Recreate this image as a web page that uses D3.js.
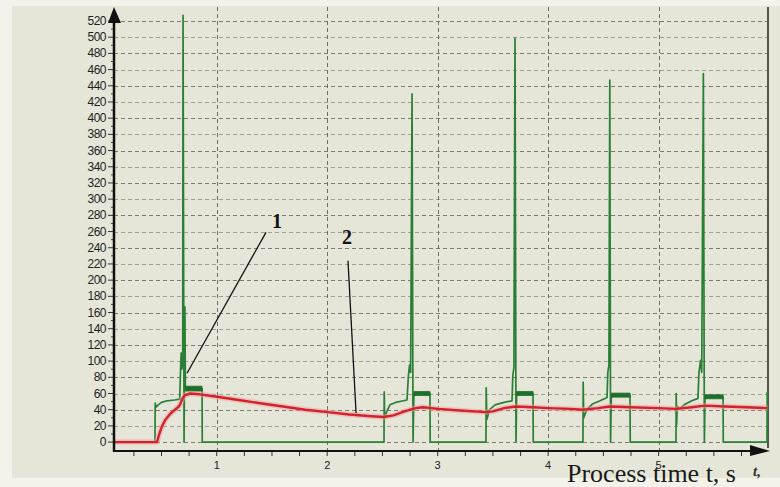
<!DOCTYPE html>
<html>
<head>
<meta charset="utf-8">
<script src="https://cdn.jsdelivr.net/npm/d3@7"></script>
<style>
  html, body { margin: 0; padding: 0; background: #f3f3ec; }
  svg { display: block; }
</style>
</head>
<body>
<svg id="chart" width="780" height="487"></svg>
<script>
// Axis ticks
const yTickValues = d3.range(0, 521, 20);
const xTickLabels = [1, 2, 3, 4, 5];
const xMinorStep = 0.25;

// Curve 1 (green): process time t [s], value
const greenSeries = [
  [0.07, 0], [0.441, 0], [0.443, 48], [0.45, 43], [0.47, 46], [0.50, 49], [0.55, 51],
  [0.62, 52], [0.665, 53], [0.672, 88], [0.678, 110], [0.684, 90], [0.692, 96],
  [0.695, 527], [0.704, 0], [0.712, 167], [0.716, 66], [0.867, 66], [0.869, 0],
  [2.514, 0], [2.516, 62], [2.52, 30], [2.54, 38], [2.568, 46], [2.62, 49], [2.722, 52],
  [2.735, 82], [2.745, 95], [2.755, 86], [2.768, 430], [2.777, 0], [2.785, 60],
  [2.930, 60], [2.932, 0],
  [3.437, 0], [3.439, 67], [3.445, 28], [3.47, 40], [3.52, 46], [3.60, 49], [3.673, 51],
  [3.68, 82], [3.69, 92], [3.700, 499], [3.709, 0], [3.715, 60], [3.863, 60], [3.865, 0],
  [4.315, 0], [4.317, 74], [4.322, 30], [4.35, 40], [4.40, 47], [4.47, 51], [4.533, 55],
  [4.54, 86], [4.55, 95], [4.558, 447], [4.565, 0], [4.572, 58], [4.741, 58], [4.743, 0],
  [5.157, 0], [5.159, 60], [5.163, 21], [5.168, 44], [5.19, 41], [5.23, 46], [5.30, 51],
  [5.356, 54], [5.365, 86], [5.38, 101], [5.39, 86], [5.405, 455], [5.414, 0],
  [5.42, 56], [5.583, 56], [5.585, 0], [5.981, 0], [5.983, 62]
];

// Ripple bands on the green plateaus: start, end, level, half-width
const greenPlateaus = [
  [0.716, 0.867, 66, 3],
  [2.785, 2.930, 60, 2.5],
  [3.715, 3.863, 60, 2.5],
  [4.572, 4.741, 58, 2.5],
  [5.42, 5.583, 56, 2.5]
];

// Curve 2 (red): process time t [s], value
const redSeries = [
  [0.07, 0], [0.459, 0], [0.48, 10], [0.50, 18], [0.532, 27], [0.58, 35], [0.622, 40],
  [0.65, 43], [0.667, 46], [0.69, 54], [0.713, 58], [0.76, 60], [0.848, 59],
  [1.002, 56], [1.2, 52], [1.392, 48], [1.6, 44], [1.8, 40], [2.007, 37], [2.2, 34],
  [2.4, 32], [2.514, 31], [2.6, 33], [2.7, 38], [2.8, 42], [2.867, 43], [3.003, 41],
  [3.2, 39], [3.437, 37], [3.5, 38], [3.6, 42], [3.709, 44], [3.863, 43], [4.0, 42],
  [4.2, 41], [4.315, 40], [4.45, 42], [4.56, 44], [4.75, 43], [5.0, 42], [5.157, 41],
  [5.3, 43], [5.42, 45], [5.6, 44], [5.8, 43], [5.985, 42]
];

// Curve callouts: label, label position, leader line from/to (t, value)
const callouts = [
  { text: "1", at: [1.545, 264], from: [1.446, 259], to: [0.731, 85] },
  { text: "2", at: [2.179, 245], from: [2.188, 224], to: [2.261, 36] }
];

const xTitle = "Process time t, s";
const xUnitMark = "t,";

const svg = d3.select("#chart");
const W = 780;

const x = d3.scaleLinear().domain([0.07, 5.99]).range([114, 768]);
const y = d3.scaleLinear().domain([-11, 520]).range([451, 21]);

// panel background
svg.append("rect").attr("x", 12).attr("y", 6).attr("width", W - 12).attr("height", 472)
  .attr("fill", "#e5e6d8");

// grid
const grid = svg.append("g").attr("stroke", "#6e6e68").attr("stroke-width", 1)
  .attr("stroke-dasharray", "4,3").attr("fill", "none");
grid.selectAll("line.h").data(yTickValues).join("line").attr("class", "h")
  .attr("x1", x(0.07)).attr("x2", x(5.99))
  .attr("y1", d => Math.round(y(d)) + 0.5).attr("y2", d => Math.round(y(d)) + 0.5)
  .attr("stroke-opacity", (d, i) => i % 2 ? 0.6 : 0.9);
grid.selectAll("line.v").data(xTickLabels).join("line").attr("class", "v")
  .attr("x1", d => Math.round(x(d)) + 0.5).attr("x2", d => Math.round(x(d)) + 0.5)
  .attr("y1", 7).attr("y2", y(-11));

// right border
svg.append("line").attr("x1", 768).attr("x2", 768).attr("y1", 7).attr("y2", 448)
  .attr("stroke", "#55554f").attr("stroke-width", 2);

// green curve
const line = d3.line().x(d => x(d[0])).y(d => y(d[1]));
svg.append("path").datum(greenSeries).attr("d", line)
  .attr("fill", "none").attr("stroke", "#2a7f36").attr("stroke-width", 1.7)
  .attr("stroke-linejoin", "round");
const band = d3.area().x(d => x(d[0])).y0(d => y(d[1] - d[2])).y1(d => y(d[1] + d[2]));
svg.append("g").selectAll("path").data(greenPlateaus).join("path")
  .attr("d", p => band([[p[0], p[2], p[3]], [p[1], p[2], p[3]]]))
  .attr("fill", "#1d7029").attr("stroke", "#1d7029").attr("stroke-width", 0.8);

// red curve with soft halo
svg.append("path").datum(redSeries).attr("d", line)
  .attr("fill", "none").attr("stroke", "#f0a0a0").attr("stroke-width", 5.5)
  .attr("stroke-opacity", 0.5).attr("stroke-linejoin", "round");
svg.append("path").datum(redSeries).attr("d", line)
  .attr("fill", "none").attr("stroke", "#d3222c").attr("stroke-width", 2.4)
  .attr("stroke-linejoin", "round");

// callouts
const co = svg.append("g");
co.selectAll("line").data(callouts).join("line")
  .attr("x1", d => x(d.from[0])).attr("y1", d => y(d.from[1]))
  .attr("x2", d => x(d.to[0])).attr("y2", d => y(d.to[1]))
  .attr("stroke", "#111").attr("stroke-width", 1.3);
co.selectAll("text").data(callouts).join("text")
  .attr("x", d => x(d.at[0])).attr("y", d => y(d.at[1]))
  .attr("text-anchor", "middle")
  .attr("font-family", "Liberation Serif, Times New Roman, serif")
  .attr("font-weight", "bold").attr("font-size", 20).attr("fill", "#111")
  .text(d => d.text);

// y axis
const yAxis = svg.append("g");
yAxis.selectAll("line.maj").data(yTickValues).join("line").attr("class", "maj")
  .attr("x1", 108).attr("x2", 114)
  .attr("y1", d => y(d)).attr("y2", d => y(d))
  .attr("stroke", "#333").attr("stroke-width", 1);
yAxis.selectAll("line.min").data(d3.range(10, 520, 20)).join("line").attr("class", "min")
  .attr("x1", 111).attr("x2", 114)
  .attr("y1", d => y(d)).attr("y2", d => y(d))
  .attr("stroke", "#444").attr("stroke-width", 1);
yAxis.selectAll("text").data(yTickValues).join("text")
  .attr("x", 106).attr("y", d => y(d) + 4)
  .attr("text-anchor", "end")
  .attr("font-family", "Liberation Sans, Arial, sans-serif")
  .attr("font-size", 12).attr("fill", "#1e1e1e")
  .attr("letter-spacing", -0.5)
  .text(d => d);
yAxis.append("line").attr("x1", 114).attr("x2", 114).attr("y1", 20).attr("y2", y(-11) + 1)
  .attr("stroke", "#111").attr("stroke-width", 2.5);
yAxis.append("path")
  .attr("d", `M108,23 L114,7 L121,23 Z`)
  .attr("fill", "#111");

// x axis
const xAxis = svg.append("g");
xAxis.selectAll("line").data(d3.range(0.25, 5.9, xMinorStep)).join("line")
  .attr("x1", d => x(d)).attr("x2", d => x(d))
  .attr("y1", y(-11)).attr("y2", y(-11) + 5)
  .attr("stroke", "#333").attr("stroke-width", 1);
xAxis.selectAll("text").data(xTickLabels).join("text")
  .attr("x", d => x(d)).attr("y", 469)
  .attr("text-anchor", "middle")
  .attr("font-family", "Liberation Sans, Arial, sans-serif")
  .attr("font-size", 11).attr("fill", "#222")
  .text(d => d);
xAxis.append("line").attr("x1", 113).attr("x2", 758).attr("y1", y(-11)).attr("y2", y(-11))
  .attr("stroke", "#111").attr("stroke-width", 2);
xAxis.append("path")
  .attr("d", `M750,445 L770,451 L750,456 Z`)
  .attr("fill", "#111");

// axis title
svg.append("text").attr("x", 567).attr("y", 482)
  .attr("font-family", "Liberation Serif, Times New Roman, serif")
  .attr("font-size", 26).attr("fill", "#1a1a1a")
  .text(xTitle);
svg.append("text").attr("x", 753).attr("y", 476)
  .attr("font-family", "Liberation Serif, Times New Roman, serif")
  .attr("font-style", "italic").attr("font-weight", "bold")
  .attr("font-size", 15).attr("fill", "#333")
  .text(xUnitMark);
</script>
</body>
</html>
